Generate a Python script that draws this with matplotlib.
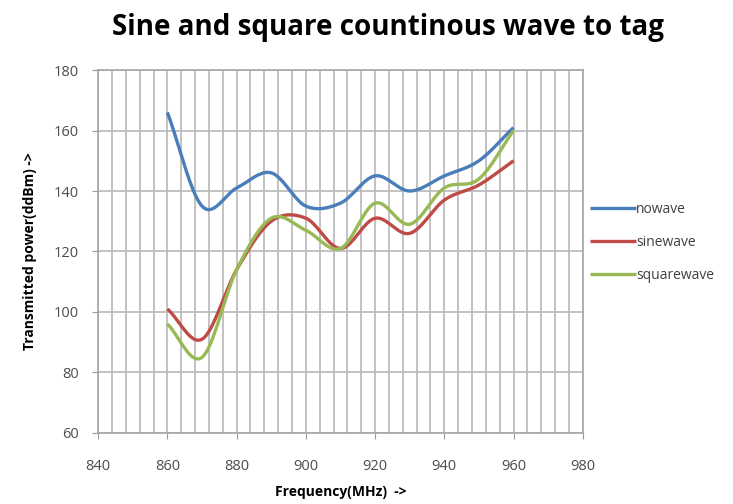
import numpy as np
import matplotlib.pyplot as plt

# Data
frequency = [860, 870, 880, 890, 900, 910, 920, 930, 940, 950, 960]
nowave = [166, 135, 141, 146, 135, 136, 145, 140, 145, 150, 161]
sinewave = [101, 91, 114, 130, 131, 121, 131, 126, 137, 142, 150]
squarewave = [96, 85, 114, 131, 127, 121, 136, 129, 141, 144, 160]


def smooth(x, y, n=20):
    """Catmull-Rom curve through the points (like Excel's smoothed line)."""
    x = np.asarray(x, float)
    y = np.asarray(y, float)
    px = np.concatenate([[2 * x[0] - x[1]], x, [2 * x[-1] - x[-2]]])
    py = np.concatenate([[2 * y[0] - y[1]], y, [2 * y[-1] - y[-2]]])
    xs, ys = [], []
    t = np.linspace(0, 1, n, endpoint=False)
    for i in range(1, len(px) - 2):
        for p, out in ((px, xs), (py, ys)):
            p0, p1, p2, p3 = p[i - 1], p[i], p[i + 1], p[i + 2]
            out.extend(0.5 * (2 * p1 + (-p0 + p2) * t
                              + (2 * p0 - 5 * p1 + 4 * p2 - p3) * t ** 2
                              + (-p0 + 3 * p1 - 3 * p2 + p3) * t ** 3))
    xs.append(x[-1])
    ys.append(y[-1])
    return np.array(xs), np.array(ys)


plt.rcParams['font.family'] = ['Open Sans', 'DejaVu Sans']

fig = plt.figure(figsize=(7.33, 5.04), dpi=100)
ax = fig.add_axes([0.134, 0.141, 0.661, 0.72])

series = [
    ('nowave', nowave, '#4A7EBB'),
    ('sinewave', sinewave, '#BE4B48'),
    ('squarewave', squarewave, '#98B954'),
]
for name, vals, color in series:
    sx, sy = smooth(frequency, vals)
    ax.plot(sx, sy, color=color, linewidth=2.4, label=name,
            solid_capstyle='butt')

ax.set_xlim(840, 980)
ax.set_ylim(60, 180)
ax.set_xticks(np.arange(840, 981, 20))
ax.set_yticks(np.arange(60, 181, 20))
ax.set_xticks(np.arange(840, 981, 4), minor=True)
ax.grid(True, which='major', axis='y', color='#bdbdbd', linewidth=1.3)
ax.grid(True, which='both', axis='x', color='#bdbdbd', linewidth=1.3)
ax.set_axisbelow(True)
ax.tick_params(axis='both', which='major', length=4, color='#999999',
               labelcolor='#4d4d4d', labelsize=10.5)
ax.tick_params(axis='x', which='major', pad=15)
ax.tick_params(axis='y', which='major', pad=10)
ax.tick_params(axis='x', which='minor', length=0)
for sp in ax.spines.values():
    sp.set_color('#a6a6a6')
    sp.set_linewidth(1.2)

ax.set_xlabel('Frequency(MHz)  ->', fontsize=10, fontweight='bold', labelpad=8)
ax.set_ylabel('Transmitted power(ddBm) ->', fontsize=10, fontweight='bold', labelpad=12)

fig.suptitle('Sine and square countinous wave to tag', fontsize=20,
             fontweight='bold', x=0.53, y=0.975)

ax.legend(loc='center left', bbox_to_anchor=(1.0, 0.525), frameon=False,
          fontsize=10, handlelength=3.3, handletextpad=0.05,
          labelspacing=1.3, labelcolor='#404040', borderaxespad=0.1)

fig.savefig('out.png', dpi=100)
